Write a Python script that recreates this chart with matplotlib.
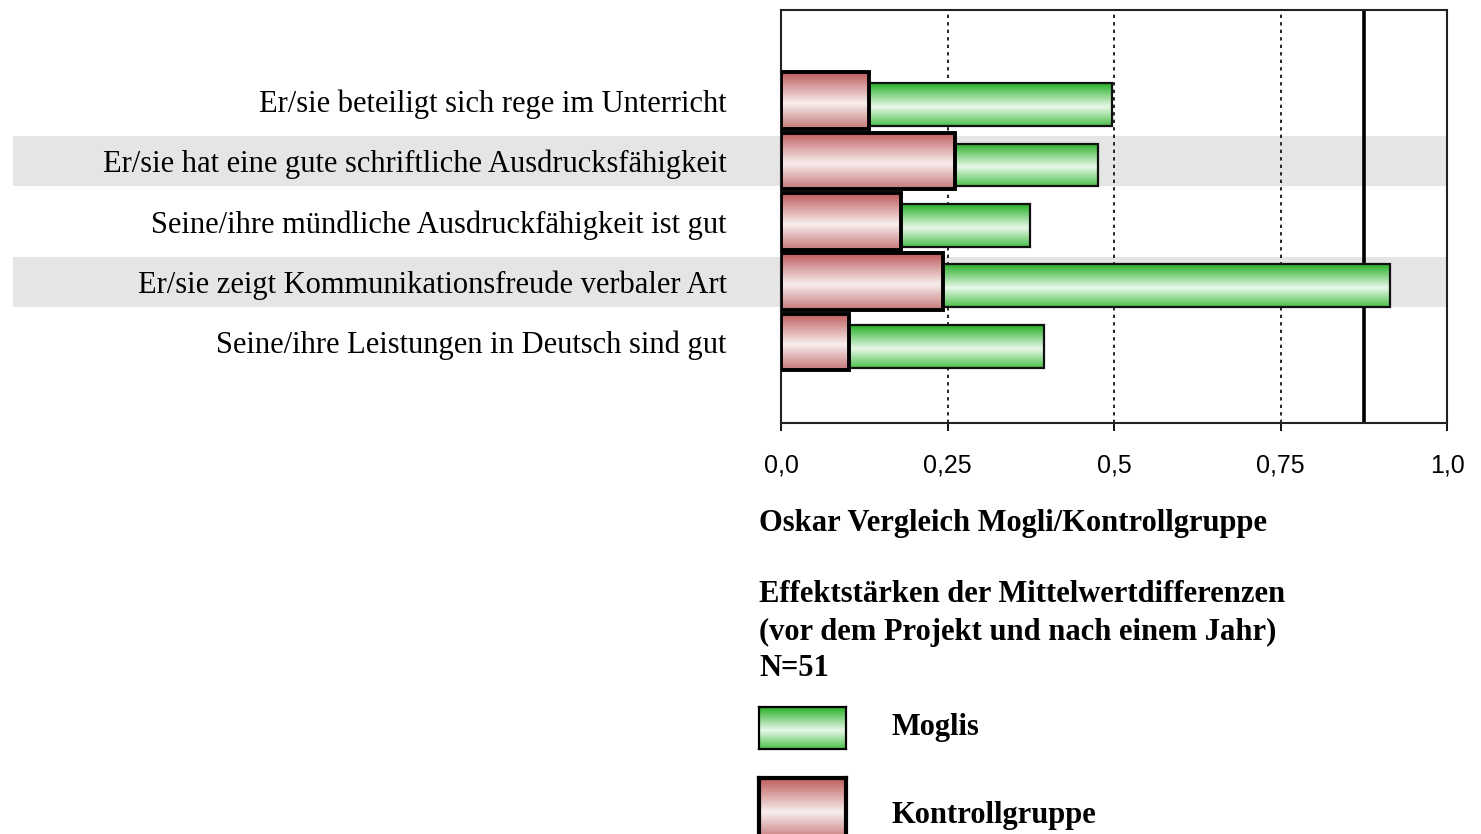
import numpy as np
import matplotlib.pyplot as plt
from matplotlib.patches import Rectangle
from matplotlib.transforms import blended_transform_factory

# Daten
items = [
    "Er/sie beteiligt sich rege im Unterricht",
    "Er/sie hat eine gute schriftliche Ausdrucksfähigkeit",
    "Seine/ihre mündliche Ausdruckfähigkeit ist gut",
    "Er/sie zeigt Kommunikationsfreude verbaler Art",
    "Seine/ihre Leistungen in Deutsch sind gut",
]
moglis = [0.497, 0.476, 0.374, 0.914, 0.395]
kontroll = [0.132, 0.261, 0.180, 0.243, 0.102]
ref_line = 0.876
xticks = [0.0, 0.25, 0.5, 0.75, 1.0]
xticklabels = ["0,0", "0,25", "0,5", "0,75", "1,0"]
title1 = "Oskar Vergleich Mogli/Kontrollgruppe"
title2 = ["Effektstärken der Mittelwertdifferenzen",
          "(vor dem Projekt und nach einem Jahr)",
          "N=51"]
legend_names = ["Moglis", "Kontrollgruppe"]

W, H = 1481, 834
FS = 22


def gradient(stops, n=64):
    # stops: Liste (pos, hex)
    pos = [s[0] for s in stops]
    rgb = np.array([[int(c[i:i + 2], 16) / 255 for i in (1, 3, 5)] for _, c in stops])
    t = np.linspace(0, 1, n)
    arr = np.stack([np.interp(t, pos, rgb[:, k]) for k in range(3)], axis=-1)
    return arr[:, None, :]


green_grad = gradient([(0, "#28b028"), (0.55, "#e9f8e9"), (1, "#4cc14c")])
red_grad = gradient([(0, "#bf5b5b"), (0.55, "#f8eeee"), (1, "#c67777")])

fig = plt.figure(figsize=(W / 100, H / 100), dpi=100)
ax = fig.add_axes([781 / W, 1 - 423 / H, 666 / W, 413 / H])
ax.patch.set_alpha(0)

y = np.arange(len(items))

# graue Bänder hinter jeder zweiten Zeile
tr = blended_transform_factory(fig.transFigure, ax.transData)
for i in y[1::2]:
    ax.add_patch(Rectangle((13 / W, i - 0.415), (1447 - 13) / W, 0.83, transform=tr,
                           facecolor="#e5e5e5", edgecolor="none", clip_on=False, zorder=0))

for xv in xticks[1:-1]:
    ax.axvline(xv, color="black", lw=1.2, ls=(0, (2, 2.5)), zorder=1)
ax.axvline(ref_line, color="black", lw=2.6, zorder=1.5)


def gradient_bars(bars, grad, z):
    for b in bars:
        x0, y0 = b.get_x(), b.get_y()
        w, h = b.get_width(), b.get_height()
        im = ax.imshow(grad, extent=(x0, x0 + w, y0 + h, y0), aspect="auto",
                       origin="upper", zorder=z, interpolation="bilinear")
        im.set_clip_path(b)


gb = ax.barh(y + 0.066, moglis, height=0.71, facecolor="none", edgecolor="#111111",
             linewidth=1.6, zorder=3.1)
gradient_bars(gb, green_grad, 3)
rb = ax.barh(y, kontroll, height=0.94, facecolor="none", edgecolor="black",
             linewidth=2.8, zorder=4.1)
gradient_bars(rb, red_grad, 4)

ax.set_xlim(0, 1)
ax.set_ylim(5.34, -1.5)
ax.set_yticks(y)
ax.set_yticklabels(items, fontsize=FS, family="Liberation Serif")
ax.tick_params(axis="y", length=0, pad=39)
ax.set_xticks(xticks)
ax.set_xticklabels(xticklabels, fontsize=18, family="Liberation Sans")
ax.tick_params(axis="x", length=6, width=1.3, pad=16, direction="out")
for s in ax.spines.values():
    s.set_linewidth(1.5)
    s.set_color("#222222")

fig.text(759 / W, 1 - 523 / H, title1, fontsize=FS, weight="bold",
         family="Liberation Serif", va="center", ha="left")
for line, ly in zip(title2, [595, 632, 668]):
    fig.text(759 / W, 1 - ly / H, line, fontsize=FS, weight="bold",
             family="Liberation Serif", va="center", ha="left")

# Legende
swatches = [(green_grad, 707, 749, 1.6), (red_grad, 778, 840, 3.0)]
text_y = [728, 815]
for (grad, top, bot, lw), name, ty in zip(swatches, legend_names, text_y):
    lax = fig.add_axes([759 / W, 1 - bot / H, 87 / W, (bot - top) / H])
    lax.imshow(grad, aspect="auto", interpolation="bilinear")
    lax.set_xticks([])
    lax.set_yticks([])
    for s in lax.spines.values():
        s.set_linewidth(lw)
        s.set_color("black")
    fig.text(892 / W, 1 - ty / H, name, fontsize=FS, weight="bold",
             family="Liberation Serif", va="center", ha="left")

fig.savefig("out.png", dpi=100)
